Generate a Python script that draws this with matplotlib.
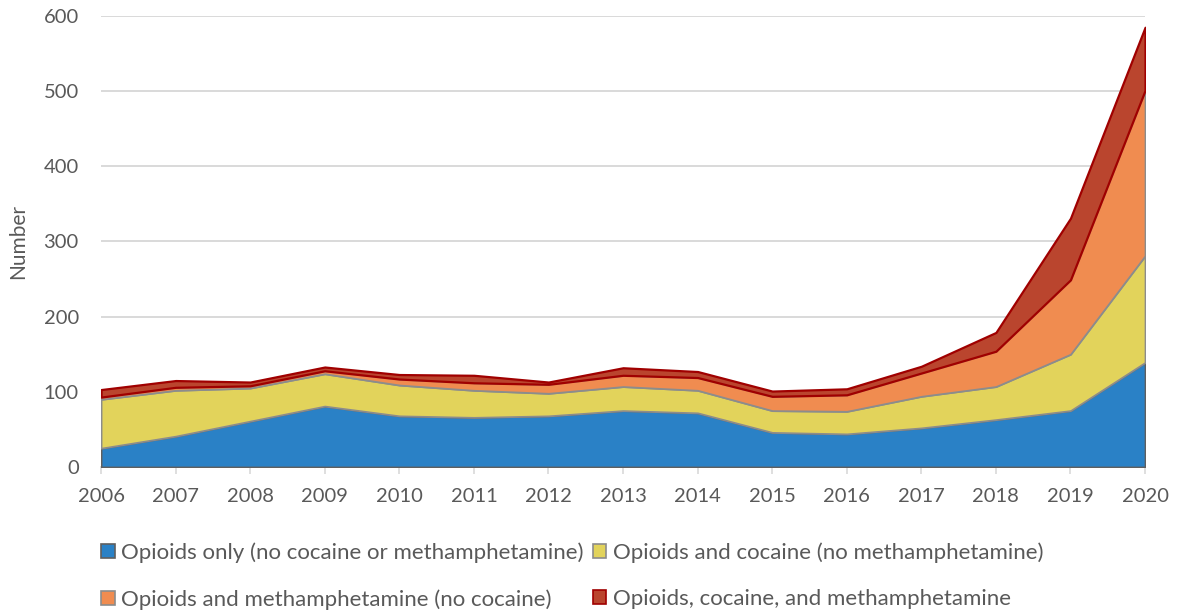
import matplotlib
matplotlib.use('Agg')
import matplotlib.pyplot as plt
from matplotlib.patches import Patch

plt.rcParams['font.family'] = ['Lato', 'DejaVu Sans']

# Dados
anos = [2006, 2007, 2008, 2009, 2010, 2011, 2012, 2013,
        2014, 2015, 2016, 2017, 2018, 2019, 2020]
opioides = [25, 41, 61, 81, 68, 66, 68, 75, 72, 46, 44, 52, 63, 75, 139]
op_cocaina = [65, 61, 44, 43, 41, 36, 30, 32, 30, 29, 30, 42, 44, 75, 142]
op_meta = [3, 4, 3, 4, 8, 10, 12, 15, 17, 19, 22, 31, 47, 99, 220]
op_coc_meta = [10, 9, 5, 5, 6, 10, 3, 10, 8, 7, 8, 9, 25, 82, 84]

rotulos = ['Opioids only (no cocaine or methamphetamine)',
           'Opioids and cocaine (no methamphetamine)',
           'Opioids and methamphetamine (no cocaine)',
           'Opioids, cocaine, and methamphetamine']

cores = ['#2A81C6', '#E2D35B', '#F08C50', '#BA452E']
bordas = ['#5F5F5F', '#8C8C8C', '#8C8C8C', '#A00000']
larguras = [1.3, 1.3, 1.3, 1.6]
texto = '#595959'

fig = plt.figure(figsize=(11.79, 6.13), dpi=100)
ax = fig.add_axes([0.0857, 0.2382, 0.8855, 0.7357])

camadas = ax.stackplot(anos, opioides, op_cocaina, op_meta, op_coc_meta,
                       colors=cores, zorder=3)
for poly, b, lw in zip(camadas, bordas, larguras):
    poly.set_edgecolor(b)
    poly.set_linewidth(lw)

ax.set_xlim(2006, 2020)
ax.set_ylim(0, 600)
ax.set_xticks(anos)
ax.set_yticks(range(0, 601, 100))
ax.grid(axis='y', color='#D9D9D9', linewidth=1.4, zorder=0)

for lado in ['top', 'right', 'left']:
    ax.spines[lado].set_visible(False)
ax.spines['bottom'].set_color('#D9D9D9')
ax.spines['bottom'].set_linewidth(1.4)
ax.spines['bottom'].set_zorder(1)

ax.tick_params(axis='x', colors='#D9D9D9', length=5, width=1.2, pad=10,
               labelcolor=texto, labelsize=14.5)
ax.tick_params(axis='y', length=0, pad=16, labelcolor=texto, labelsize=14.5)

ax.set_ylabel('Number', color=texto, fontsize=15)
ax.yaxis.set_label_coords(-0.07, 0.5)

# Legenda em 2 linhas (ordem de preenchimento por coluna)
handles = [Patch(facecolor=c, edgecolor=b, linewidth=1.2)
           for c, b in zip(cores, bordas)]
ordem = [0, 2, 1, 3]
fig.legend([handles[i] for i in ordem], [rotulos[i] for i in ordem],
           ncol=2, loc='upper left', bbox_to_anchor=(0.0765, 0.134),
           frameon=False, fontsize=16, labelcolor=texto,
           handlelength=0.6, handleheight=0.6, handletextpad=0.3,
           columnspacing=0.4, labelspacing=1.2, borderpad=0.0)

fig.savefig('out.png', dpi=100)
